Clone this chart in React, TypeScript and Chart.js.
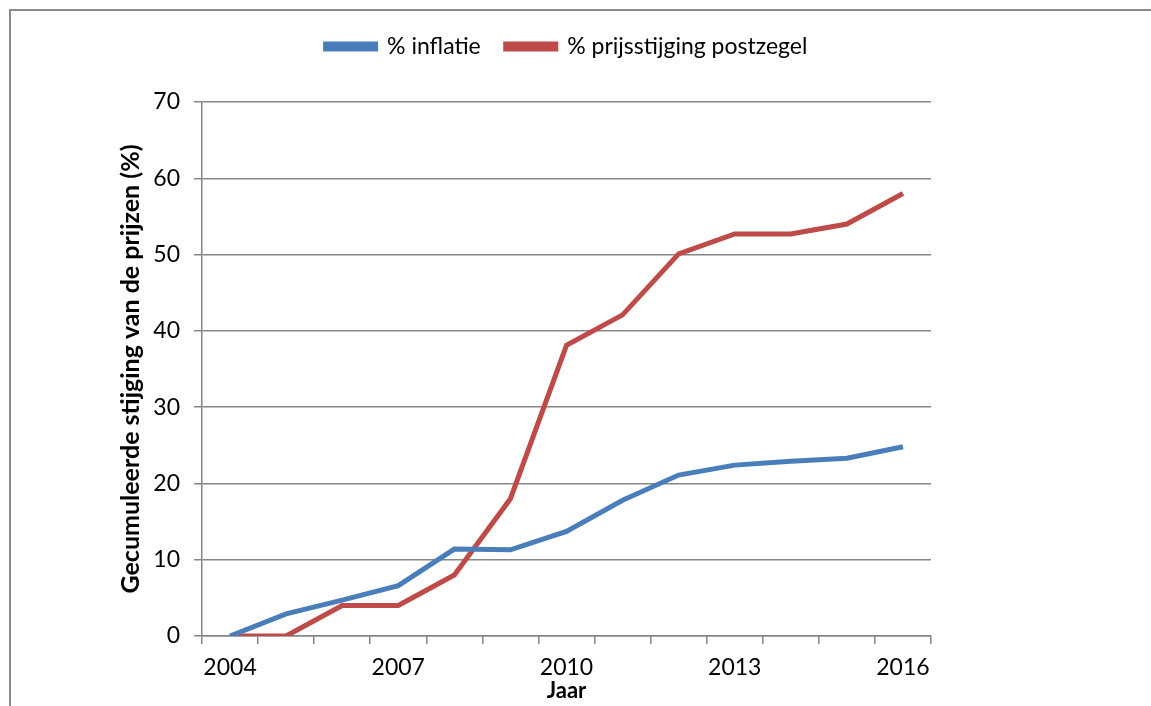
import React, { useEffect, useRef } from "react";
import { Chart, registerables } from "chart.js";

Chart.register(...registerables);

const years = ["2004", "2005", "2006", "2007", "2008", "2009", "2010", "2011", "2012", "2013", "2014", "2015", "2016"];
const inflatie = [0, 2.9, 4.7, 6.6, 11.4, 11.3, 13.7, 17.8, 21.1, 22.4, 22.9, 23.3, 24.8];
const postzegel = [0, 0, 4.0, 4.0, 8.0, 18.0, 38.1, 42.1, 50.1, 52.7, 52.7, 54.0, 58.0];
const seriesNames = ["% inflatie", "% prijsstijging postzegel"];
const yTitle = "Gecumuleerde stijging van de prijzen (%)";
const xTitle = "Jaar";

const FONT = "Lato, 'Open Sans', sans-serif";

export default function App() {
  const ref = useRef<HTMLCanvasElement | null>(null);

  useEffect(() => {
    if (!ref.current) return;
    const chart = new Chart(ref.current, {
      type: "line",
      data: {
        labels: years,
        datasets: [
          {
            label: seriesNames[0],
            data: inflatie,
            borderColor: "#4A7EBB",
            backgroundColor: "#4A7EBB",
            borderWidth: 5,
            pointRadius: 0,
            tension: 0,
          },
          {
            label: seriesNames[1],
            data: postzegel,
            borderColor: "#BE4B48",
            backgroundColor: "#BE4B48",
            borderWidth: 5,
            pointRadius: 0,
            tension: 0,
          },
        ],
      },
      options: {
        animation: false,
        responsive: false,
        devicePixelRatio: 1,
        layout: { padding: { left: 112, right: 220, top: 10, bottom: 2 } },
        plugins: {
          tooltip: { enabled: false },
          legend: {
            position: "top",
            fullSize: false,
            labels: {
              boxWidth: 50,
              boxHeight: 5,
              padding: 25,
              color: "#000",
              font: { family: FONT, size: 23 },
            },
          },
        },
        scales: {
          x: {
            type: "category",
            offset: true,
            afterFit: (s: any) => {
              s.height = 68;
            },
            grid: {
              offset: true,
              drawOnChartArea: false,
              drawTicks: true,
              tickLength: 8,
              color: "#868686",
              lineWidth: 1.5,
            },
            border: { color: "#868686", width: 1.5 },
            ticks: {
              autoSkip: false,
              maxRotation: 0,
              padding: 10,
              color: "#000",
              font: { family: FONT, size: 23 },
              callback: (_v: any, i: number) => (i % 3 === 0 ? years[i] : ""),
            },
            title: {
              display: true,
              text: xTitle,
              color: "#000",
              padding: 0,
              font: { family: FONT, size: 22, weight: "bold" },
            },
          },
          xTopSpacer: {
            type: "category",
            position: "top",
            display: true,
            afterFit: (s: any) => {
              s.height = 34;
            },
            grid: { display: false, drawTicks: false },
            border: { display: false },
            ticks: { display: false },
          },
          y: {
            min: 0,
            max: 70,
            afterFit: (s: any) => {
              s.width = 202 - 112;
            },
            grid: {
              color: "#868686",
              lineWidth: 1.5,
              tickLength: 8,
            },
            border: { color: "#868686", width: 1.5 },
            ticks: {
              stepSize: 10,
              padding: 14,
              color: "#000",
              font: { family: FONT, size: 23 },
            },
            title: {
              display: true,
              text: yTitle,
              color: "#000",
              padding: { top: 4, bottom: 0 },
              font: { family: FONT, size: 25, weight: "bold" },
            },
          },
        },
      },
    });
    return () => chart.destroy();
  }, []);

  return (
    <div>
      <div
        style={{
          position: "absolute",
          left: 9,
          top: 9,
          width: 1142,
          height: 697,
          borderTop: "2px solid #8a8a8a",
          borderLeft: "2px solid #8a8a8a",
          boxSizing: "border-box",
        }}
      />
      <canvas
        ref={ref}
        width={1151}
        height={706}
        style={{ position: "absolute", left: 0, top: 0, width: 1151, height: 706 }}
      />
    </div>
  );
}
